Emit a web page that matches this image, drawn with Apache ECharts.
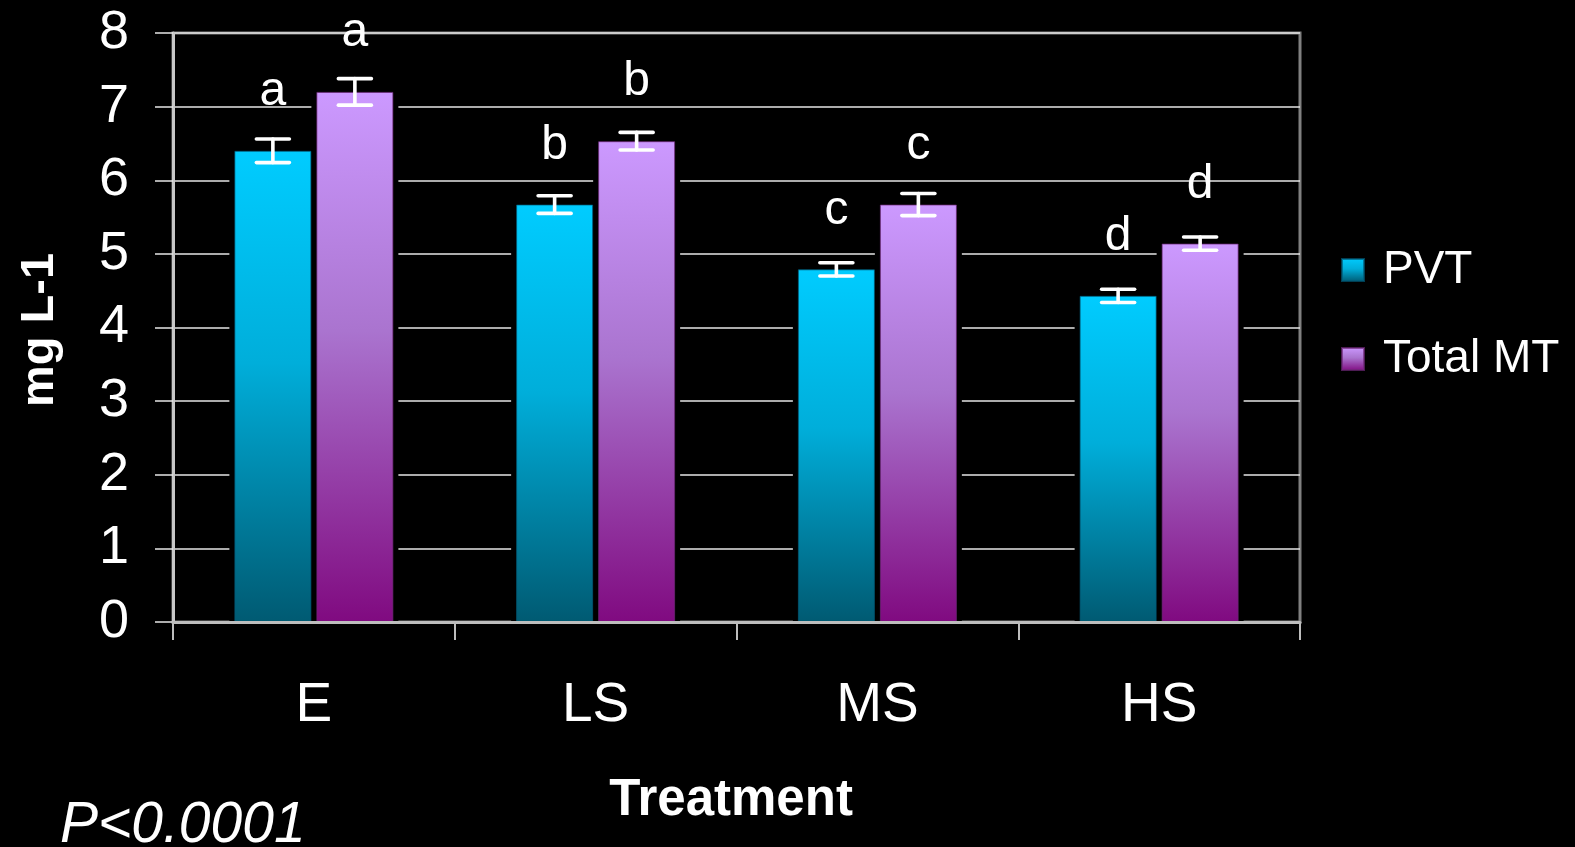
<!DOCTYPE html>
<html>
<head>
<meta charset="utf-8">
<script src="https://cdn.jsdelivr.net/npm/echarts@6/dist/echarts.min.js"></script>
<style>
  html, body { margin: 0; padding: 0; background: #000; }
  #chart { width: 1575px; height: 847px; }
</style>
</head>
<body>
<div id="chart"></div>
<script>
// Treatment groups and measured concentrations (mg L-1)
const categories = ['E', 'LS', 'MS', 'HS'];
const pvtValues = [6.40, 5.67, 4.79, 4.43];
const pvtErrors = [0.16, 0.12, 0.09, 0.09];
const totalMtValues = [7.20, 6.53, 5.67, 5.14];
const totalMtErrors = [0.18, 0.12, 0.15, 0.09];
const pvtLetters = ['a', 'b', 'c', 'd'];
const totalMtLetters = ['a', 'b', 'c', 'd'];
const yTicks = [0, 1, 2, 3, 4, 5, 6, 7, 8];

// bar geometry (pixels)
const BAR_W = 77;
const BAR_GAP = 5;
const BACK_PAD = 5;
const FONT = '"Liberation Sans", Arial, sans-serif';

const pvtFill = new echarts.graphic.LinearGradient(0, 0, 0, 1, [
  { offset: 0, color: '#00CCFF' },
  { offset: 0.45, color: '#00AEDA' },
  { offset: 1, color: '#005A72' }
]);
const mtFill = new echarts.graphic.LinearGradient(0, 0, 0, 1, [
  { offset: 0, color: '#CC99FF' },
  { offset: 0.45, color: '#AA74CF' },
  { offset: 1, color: '#800A80' }
]);

function barLeft(api, idx, k) {
  const cx = api.coord([idx, 0])[0];
  return cx - (2 * BAR_W + BAR_GAP) / 2 + k * (BAR_W + BAR_GAP);
}

// black margin behind each bar that interrupts the grid lines
function renderBacking(params, api) {
  const idx = api.value(0);
  const baseY = api.coord([idx, 0])[1];
  const children = [1, 3].map(function (dim, k) {
    const topY = api.coord([idx, api.value(dim)])[1];
    const left = barLeft(api, idx, k);
    return {
      type: 'rect',
      shape: { x: left - BACK_PAD, y: topY - 1, width: BAR_W + 2 * BACK_PAD, height: baseY - topY + 1 },
      style: { fill: '#000' }
    };
  });
  return { type: 'group', children: children };
}

// error bars and significance letters
function renderErrors(params, api) {
  const idx = api.value(0);
  const children = [];
  [[1, 2, pvtLetters], [3, 4, totalMtLetters]].forEach(function (d, k) {
    const v = api.value(d[0]);
    const e = api.value(d[1]);
    const cx = barLeft(api, idx, k) + BAR_W / 2;
    const yHi = api.coord([idx, v + e])[1];
    const yLo = api.coord([idx, v - e])[1];
    const yTop = api.coord([idx, v])[1];
    const lineStyle = { stroke: '#fff', lineWidth: 3.6, lineCap: 'round' };
    children.push({ type: 'line', shape: { x1: cx, y1: yHi, x2: cx, y2: yLo }, style: lineStyle });
    children.push({ type: 'line', shape: { x1: cx - 16.5, y1: yHi, x2: cx + 16.5, y2: yHi }, style: lineStyle });
    children.push({ type: 'line', shape: { x1: cx - 16.5, y1: yLo, x2: cx + 16.5, y2: yLo }, style: lineStyle });
    children.push({
      type: 'text',
      style: {
        text: d[2][idx], x: cx, y: yTop - 59,
        fill: '#fff', font: '48px ' + FONT, align: 'center', verticalAlign: 'middle'
      }
    });
  });
  return { type: 'group', children: children };
}

const customData = categories.map(function (c, i) {
  return [i, pvtValues[i], pvtErrors[i], totalMtValues[i], totalMtErrors[i]];
});

const chart = echarts.init(document.getElementById('chart'), null, { renderer: 'canvas' });
chart.setOption({
  backgroundColor: '#000',
  animation: false,
  grid: {
    left: 173, right: 275, top: 33, bottom: 225,
    show: true, borderColor: '#808080', borderWidth: 3,
    backgroundColor: 'transparent', containLabel: false, outerBoundsMode: 'none'
  },
  legend: {
    orient: 'vertical',
    left: 1341, top: 247,
    padding: 0,
    icon: 'rect',
    itemWidth: 22, itemHeight: 22, itemGap: 43,
    data: ['PVT', 'Total MT'],
    textStyle: { color: '#fff', fontSize: 46, lineHeight: 46, fontFamily: FONT, padding: [0, 0, 0, 14] }
  },
  xAxis: {
    type: 'category',
    data: categories,
    z: 3,
    axisLine: { show: true, lineStyle: { color: '#bdbdbd', width: 3 } },
    axisTick: { show: true, length: 18, lineStyle: { color: '#bdbdbd', width: 2 } },
    axisLabel: { color: '#fff', fontSize: 55, fontFamily: FONT, margin: 56 },
    splitLine: { show: false }
  },
  yAxis: {
    type: 'value',
    min: yTicks[0], max: yTicks[yTicks.length - 1], interval: 1,
    axisLine: { show: true, lineStyle: { color: '#c8c8c8', width: 3 } },
    axisTick: { show: true, length: 18, lineStyle: { color: '#e6e6e6', width: 1.5 } },
    axisLabel: { color: '#fff', fontSize: 54, fontFamily: FONT, margin: 44, padding: [5, 0, 0, 0] },
    splitLine: { show: true, lineStyle: { color: '#e6e6e6', width: 1.5 } }
  },
  series: [
    {
      type: 'custom',
      name: 'backing',
      z: 1,
      silent: true,
      renderItem: renderBacking,
      data: customData
    },
    {
      type: 'bar',
      name: 'PVT',
      z: 2,
      data: pvtValues,
      barWidth: BAR_W,
      barGap: (BAR_GAP / BAR_W * 100) + '%',
      itemStyle: { color: pvtFill, borderColor: 'rgba(0,90,120,0.7)', borderWidth: 1 }
    },
    {
      type: 'bar',
      name: 'Total MT',
      z: 2,
      data: totalMtValues,
      barWidth: BAR_W,
      barGap: (BAR_GAP / BAR_W * 100) + '%',
      itemStyle: { color: mtFill, borderColor: 'rgba(110,40,120,0.7)', borderWidth: 1 }
    },
    {
      type: 'custom',
      name: 'errors',
      z: 4,
      silent: true,
      renderItem: renderErrors,
      data: customData
    }
  ],
  graphic: [
    {
      type: 'text', x: 40, y: 330, rotation: Math.PI / 2,
      style: { text: 'mg L-1', fill: '#fff', font: 'bold 47px ' + FONT, align: 'center', verticalAlign: 'middle' }
    },
    {
      type: 'text', x: 731, y: 801,
      style: { text: 'Treatment', fill: '#fff', font: 'bold 51px ' + FONT, align: 'center', verticalAlign: 'middle' }
    },
    {
      type: 'text', x: 60, y: 826,
      style: { text: 'P<0.0001', fill: '#fff', font: 'italic 57px ' + FONT, align: 'left', verticalAlign: 'middle' }
    }
  ]
});
</script>
</body>
</html>
